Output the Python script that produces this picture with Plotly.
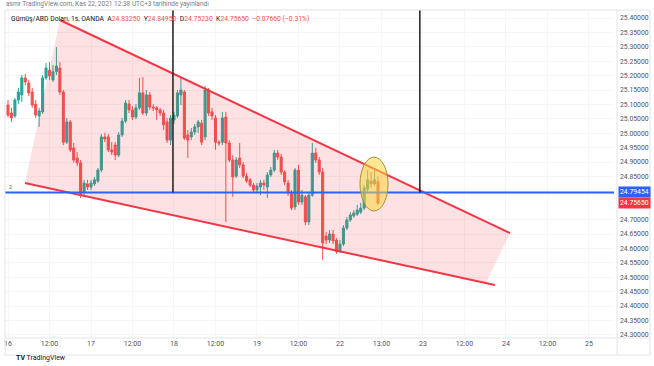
import plotly.graph_objects as go

# ---- data (hourly bars, index 0 = Nov 16 00:00) ----
opens = [25.098, 25.070, 25.060, 25.115, 25.133, 25.192, 25.174, 25.143, 25.101, 25.060,
         25.074, 25.192, 25.219, 25.185, 25.213, 25.226, 25.143, 24.969, 25.039, 24.949,
         24.914, 24.897, 24.796, 24.824, 24.813, 24.824, 24.834, 24.872, 24.987, 24.987,
         24.942, 24.959, 24.924, 24.994, 25.042, 25.101, 25.081, 25.056, 25.088, 25.140,
         25.070, 25.133, 25.091, 25.088, 25.081, 25.070, 25.039, 24.976, 25.046, 25.060,
         25.133, 25.143, 24.994, 24.987, 25.004, 25.022, 25.035, 24.987, 25.150, 25.074,
         25.053, 24.969, 24.969, 25.056, 24.966, 24.907, 24.851, 24.914, 24.890, 24.851,
         24.838, 24.820, 24.803, 24.813, 24.827, 24.813, 24.855, 24.872, 24.931, 24.917,
         24.865, 24.827, 24.792, 24.744, 24.872, 24.761, 24.779, 24.692, 24.785, 24.931,
         24.907, 24.865, 24.643, 24.629, 24.650, 24.629, 24.591, 24.615, 24.671, 24.699,
         24.713, 24.719, 24.726, 24.740, 24.806, 24.834, 24.824, 24.8325]
highs = [25.115, 25.088, 25.122, 25.157, 25.202, 25.206, 25.185, 25.157, 25.115, 25.088,
         25.202, 25.244, 25.247, 25.237, 25.299, 25.247, 25.150, 25.053, 25.046, 24.966,
         24.935, 24.907, 24.838, 24.838, 24.838, 24.848, 24.879, 24.997, 25.001, 24.997,
         24.969, 24.969, 25.004, 25.053, 25.115, 25.115, 25.094, 25.101, 25.192, 25.195,
         25.150, 25.143, 25.101, 25.094, 25.088, 25.081, 25.053, 25.063, 25.074, 25.150,
         25.192, 25.150, 25.011, 25.018, 25.032, 25.046, 25.046, 25.164, 25.157, 25.088,
         25.063, 24.976, 25.074, 25.074, 24.976, 24.924, 24.917, 24.966, 24.900, 24.862,
         24.844, 24.827, 24.827, 24.838, 24.838, 24.865, 24.883, 24.942, 24.942, 24.928,
         24.872, 24.838, 24.803, 24.879, 24.890, 24.803, 24.785, 24.792, 24.966, 24.949,
         24.917, 24.879, 24.657, 24.664, 24.664, 24.636, 24.629, 24.681, 24.709, 24.726,
         24.733, 24.751, 24.758, 24.820, 24.872, 24.865, 24.879, 24.8495]
lows = [25.056, 25.039, 25.053, 25.101, 25.108, 25.167, 25.129, 25.088, 25.053, 25.022,
        25.067, 25.185, 25.185, 25.178, 25.202, 25.133, 24.959, 24.963, 24.935, 24.897,
        24.886, 24.775, 24.785, 24.803, 24.803, 24.817, 24.827, 24.865, 24.969, 24.935,
        24.924, 24.907, 24.917, 24.987, 25.035, 25.070, 25.046, 25.049, 25.081, 25.063,
        25.060, 25.081, 25.077, 25.046, 25.060, 25.011, 24.966, 24.959, 25.032, 25.053,
        25.098, 24.976, 24.914, 24.976, 24.994, 25.001, 24.959, 24.976, 25.060, 25.046,
        24.942, 24.956, 24.959, 24.692, 24.900, 24.779, 24.844, 24.879, 24.844, 24.827,
        24.813, 24.792, 24.792, 24.785, 24.803, 24.775, 24.848, 24.865, 24.907, 24.855,
        24.820, 24.782, 24.733, 24.733, 24.751, 24.751, 24.681, 24.681, 24.779, 24.897,
        24.855, 24.560, 24.615, 24.619, 24.615, 24.581, 24.584, 24.608, 24.664, 24.692,
        24.706, 24.713, 24.719, 24.733, 24.792, 24.810, 24.817, 24.7523]
closes = [25.063, 25.053, 25.115, 25.143, 25.192, 25.178, 25.140, 25.098, 25.063, 25.077,
          25.192, 25.226, 25.199, 25.213, 25.233, 25.143, 24.969, 25.039, 24.942, 24.907,
          24.897, 24.789, 24.827, 24.813, 24.827, 24.838, 24.872, 24.987, 24.980, 24.942,
          24.935, 24.924, 24.994, 25.042, 25.105, 25.081, 25.056, 25.088, 25.140, 25.070,
          25.133, 25.091, 25.088, 25.081, 25.070, 25.029, 24.976, 25.053, 25.063, 25.140,
          25.150, 24.983, 24.976, 25.004, 25.022, 25.039, 24.969, 25.150, 25.070, 25.060,
          24.969, 24.966, 25.053, 24.966, 24.907, 24.848, 24.907, 24.890, 24.851, 24.834,
          24.820, 24.803, 24.817, 24.827, 24.820, 24.855, 24.872, 24.931, 24.917, 24.865,
          24.831, 24.792, 24.740, 24.872, 24.761, 24.785, 24.692, 24.785, 24.931, 24.907,
          24.865, 24.619, 24.629, 24.650, 24.626, 24.588, 24.615, 24.671, 24.699, 24.716,
          24.723, 24.733, 24.740, 24.810, 24.838, 24.824, 24.838, 24.7565]

x_tick_pos = [0, 12, 24, 36, 48, 60, 72, 84, 96, 108, 120, 132, 144, 156, 168]
x_tick_text = ["16", "12:00", "17", "12:00", "18", "12:00", "19", "12:00",
               "22", "13:00", "23", "12:00", "24", "12:00", "25"]
y_ticks = [24.30, 24.35, 24.40, 24.45, 24.50, 24.55, 24.60, 24.65, 24.70,
           24.85, 24.90, 24.95, 25.00, 25.05, 25.10, 25.15, 25.20, 25.25,
           25.30, 25.35, 25.40]

h_level = 24.79454          # blue horizontal line
last_price = 24.7565
vlines_x = [47.7, 119.1]    # black vertical lines (bar index)
wedge_upper = [(15.0, 25.393), (145.2, 24.653)]
wedge_lower = [(4.9, 24.827), (140.8, 24.473)]
wedge_fill = [(15.0, 25.393), (145.2, 24.653), (138.2, 24.480), (4.9, 24.827)]
ellipse_box = (101.8, 24.730, 109.9, 24.917)

idx = list(range(len(closes)))

fig = go.Figure()
fig.add_trace(go.Candlestick(
    x=idx, open=opens, high=highs, low=lows, close=closes,
    increasing=dict(line=dict(color="#26a69a", width=1), fillcolor="#26a69a"),
    decreasing=dict(line=dict(color="#ef5350", width=1), fillcolor="#ef5350"),
    whiskerwidth=0, hoverinfo="skip", showlegend=False))

shapes = []
path = "M " + " L ".join(f"{x},{y}" for x, y in wedge_fill) + " Z"
shapes.append(dict(type="path", path=path, xref="x", yref="y",
                   fillcolor="rgba(242,54,69,0.15)", line=dict(width=0), layer="above"))
for seg in (wedge_upper, wedge_lower):
    shapes.append(dict(type="line", xref="x", yref="y",
                       x0=seg[0][0], y0=seg[0][1], x1=seg[1][0], y1=seg[1][1],
                       line=dict(color="#f23645", width=2), layer="above"))
shapes.append(dict(type="line", xref="paper", yref="y", x0=0, x1=1,
                   y0=h_level, y1=h_level, line=dict(color="#2962ff", width=2), layer="above"))
for vx in vlines_x:
    shapes.append(dict(type="line", xref="x", yref="y", x0=vx, x1=vx,
                       y0=h_level, y1=25.45, line=dict(color="#1e1e1e", width=1.5), layer="above"))
shapes.append(dict(type="circle", xref="x", yref="y",
                   x0=ellipse_box[0], y0=ellipse_box[1], x1=ellipse_box[2], y1=ellipse_box[3],
                   fillcolor="rgba(251,215,60,0.55)", line=dict(color="#a8903a", width=1),
                   layer="above"))
shapes.append(dict(type="rect", xref="paper", yref="paper", x0=0, x1=1.059, y0=-0.052, y1=1,
                   line=dict(color="#e0e3eb", width=1), layer="above"))
shapes.append(dict(type="line", xref="paper", yref="paper", x0=1.005, x1=1.005, y0=-0.052, y1=1,
                   line=dict(color="#e0e3eb", width=1), layer="above"))
shapes.append(dict(type="line", xref="paper", yref="paper", x0=0, x1=1.059, y0=0, y1=0,
                   line=dict(color="#e0e3eb", width=1), layer="above"))

annotations = [
    dict(xref="paper", yref="paper", x=-0.0016, y=1.018, xanchor="left", yanchor="middle",
         text="asmr TradingView.com, Kas 22, 2021 12:38 UTC+3 tarihinde yayınlandı",
         showarrow=False, font=dict(size=6.5, color="#787b86")),
    dict(xref="paper", yref="paper", x=0.0066, y=0.9726, xanchor="left", yanchor="middle",
         text="Gümüş/ABD Doları, 1s, OANDA  A<span style='color:#ef5350'>24.83250</span>  "
              "Y<span style='color:#ef5350'>24.84950</span>  D<span style='color:#ef5350'>24.75230</span>  "
              "K<span style='color:#ef5350'>24.75650</span>  <span style='color:#ef5350'>−0.07660 (−0.31%)</span>",
         showarrow=False, font=dict(size=6.8, color="#131722")),
    dict(xref="paper", yref="y", x=1.006, y=h_level, xanchor="left", yanchor="middle",
         text=f"{h_level:.5f}", showarrow=False, bgcolor="#2962ff",
         font=dict(size=6.8, color="white"), borderpad=1),
    dict(xref="paper", yref="y", x=1.006, y=last_price, xanchor="left", yanchor="middle",
         text=f"{last_price:.5f}", showarrow=False, bgcolor="#f23645",
         font=dict(size=6.8, color="white"), borderpad=1),
    dict(xref="paper", yref="y", x=0.003, y=h_level + 0.018, xanchor="left", yanchor="middle",
         text="2", showarrow=False, font=dict(size=5.5, color="#555")),
    dict(xref="paper", yref="paper", x=0.015, y=-0.061, xanchor="left", yanchor="middle",
         text="<b>TV</b> TradingView", showarrow=False, font=dict(size=7, color="#131722")),
]

fig.update_layout(
    width=654, height=366,
    margin=dict(l=5, r=40, t=10, b=28),
    paper_bgcolor="white", plot_bgcolor="white",
    shapes=shapes, annotations=annotations,
    font=dict(family="Roboto, Arial, sans-serif"),
    boxgap=0.15,
    hovermode=False,
    xaxis=dict(range=[-0.87, 175.25], tickmode="array", tickvals=x_tick_pos, ticktext=x_tick_text,
               rangeslider=dict(visible=False), showgrid=True, gridcolor="#f4f5f8",
               zeroline=False, showline=False, ticks="", tickfont=dict(size=7, color="#50535e")),
    yaxis=dict(range=[24.2889, 25.4278], side="right", tickmode="array", tickvals=y_ticks,
               tickformat=".5f", showgrid=True, gridcolor="#f4f5f8", zeroline=False,
               showline=False, ticks="", tickfont=dict(size=6.8, color="#50535e"),
               ticklabelstandoff=5),
)

fig.write_html("out.html", config={"displayModeBar": False},
               post_script="document.body.style.margin='0';document.body.style.padding='0';")
